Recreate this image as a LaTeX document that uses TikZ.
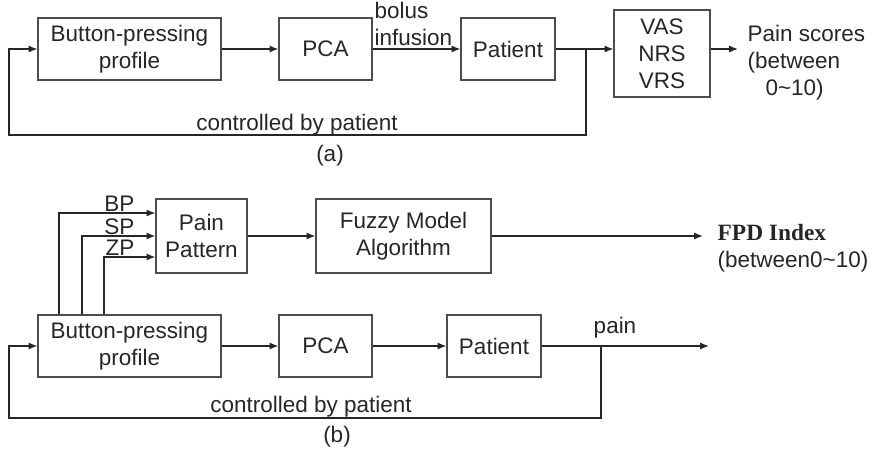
\documentclass[tikz,border=0pt]{standalone}
\usepackage{fontspec}
\setmainfont{Liberation Sans}
\newfontfamily\fpdfont{Liberation Serif}
\usetikzlibrary{arrows.meta}

\begin{document}
\begin{tikzpicture}[x=0.02cm,y=-0.02cm,line width=0.8pt,color=black!85,
    font=\fontsize{12.8}{15.3}\selectfont,
    blk/.style={draw=black!70,line width=0.6pt,align=center,inner sep=1pt,minimum height=1.24cm},
    arr/.style={-{Latex[length=5pt,width=4pt]}},
    lbl/.style={inner sep=0.5pt}]
    \useasboundingbox (0,0) rectangle (876,449);
    % (a)
    \node at (129.5,49) [blk,minimum width=3.66cm] (bpa) {Button-pressing\\profile};
    \node at (325.5,49) [blk,minimum width=1.86cm] (pcaa) {PCA};
    \node at (508,49) [blk,minimum width=1.88cm] (pata) {Patient};
    \node at (662,53.5) [blk,minimum width=1.92cm,minimum height=1.74cm] (vas) {VAS\\NRS\\VRS};
    \node at (746,63) [anchor=west,align=left,lbl] (scores) {Pain scores\\(between\\\hspace*{0.8em}0\textasciitilde10)};
    \coordinate (fba) at (586,49);
    \coordinate (lpa) at (9,135);
    \coordinate (outa) at (738,49);
    \draw[arr] (bpa) -- (pcaa);
    \draw[arr] (pcaa) -- (pata);
    \draw[arr] (pata) -- (pata -| vas.west);
    \draw[arr] (vas.east |- outa) -- (outa);
    \draw[arr] (fba) |- (lpa) |- (bpa.west);
    \node at (373,47) [anchor=south west,align=left,lbl] (bolus) {bolus\\infusion};
    \node at (297,125) [lbl] (ctla) {controlled by patient};
    \node at (330,156) [lbl] (capa) {(a)};
    % (b)
    \node at (201.5,236) [blk,minimum width=1.82cm,minimum height=1.48cm] (ppat) {Pain\\Pattern};
    \node at (403.5,236) [blk,minimum width=3.5cm,minimum height=1.48cm] (fuzzy) {Fuzzy Model\\Algorithm};
    \node at (129.5,346) [blk,minimum width=3.66cm] (bpb) {Button-pressing\\profile};
    \node at (325.5,346) [blk,minimum width=1.86cm] (pcab) {PCA};
    \node at (494,346) [blk,minimum width=1.88cm] (patb) {Patient};
    \node at (717,233) [anchor=west,inner sep=0pt,font=\fpdfont\bfseries\fontsize{13.3}{15}\selectfont] (fpd) {FPD Index};
    \node at (717,262) [anchor=west,inner sep=0pt] (fpdr) {(between0\textasciitilde10)};
    \coordinate (bpt) at (59,213);
    \coordinate (spt) at (82,236);
    \coordinate (zpt) at (104,257);
    \coordinate (outf) at (703,236);
    \coordinate (fbb) at (601,346);
    \coordinate (lpb) at (9,418);
    \coordinate (outb) at (709,346);
    \draw[arr] (bpb.north -| bpt) |- (ppat.west |- bpt);
    \draw[arr] (bpb.north -| spt) |- (ppat.west |- spt);
    \draw[arr] (bpb.north -| zpt) |- (ppat.west |- zpt);
    \node at (136,213) [anchor=south east,lbl] (lbp) {BP};
    \node at (136,236) [anchor=south east,lbl] (lsp) {SP};
    \node at (136,257) [anchor=south east,lbl] (lzp) {ZP};
    \draw[arr] (ppat) -- (fuzzy);
    \draw[arr] (fuzzy) -- (outf);
    \draw[arr] (bpb) -- (pcab);
    \draw[arr] (pcab) -- (patb);
    \draw[arr] (patb) -- (outb);
    \draw[arr] (fbb) |- (lpb) |- (bpb.west);
    \node at (615,328) [lbl] (pain) {pain};
    \node at (311,407) [lbl] (ctlb) {controlled by patient};
    \node at (337,437) [lbl] (capb) {(b)};
\end{tikzpicture}
\end{document}
